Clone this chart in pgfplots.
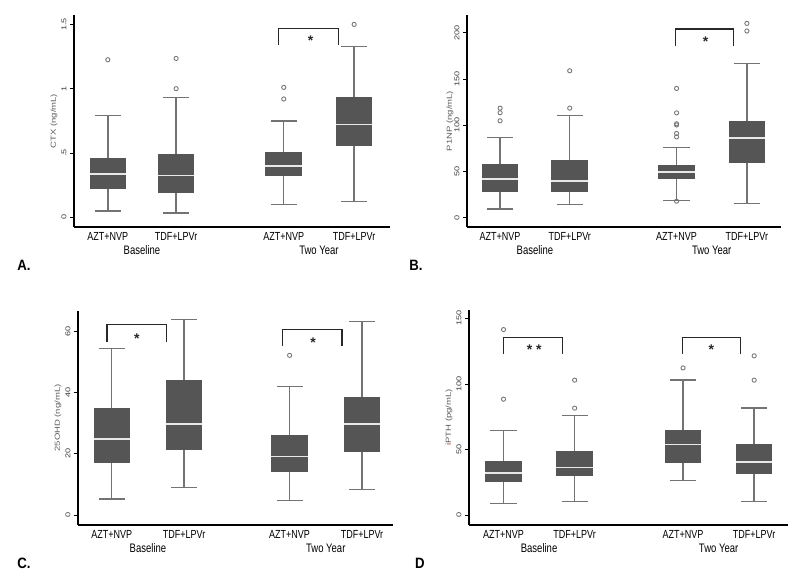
\documentclass[border=0pt]{standalone}
\usepackage{fontspec}
\setmainfont{Liberation Sans}
\usepackage{graphicx}
\usepackage{pgfplots}
\pgfplotsset{compat=1.18}
\usepgfplotslibrary{statistics}

\definecolor{boxgray}{RGB}{85,85,85}
\definecolor{whiskgray}{RGB}{115,115,115}
\definecolor{outgray}{RGB}{120,120,120}
\definecolor{medwhite}{RGB}{232,232,232}
\definecolor{labgray}{RGB}{90,90,90}
\definecolor{tickgray}{RGB}{60,60,60}
\definecolor{brk}{RGB}{40,40,40}
\definecolor{ired}{RGB}{170,70,60}

% Stata export is stretched vertically, so text is too
\newcommand{\hs}[1]{\scalebox{1.3}[1]{#1}}
\newcommand{\vs}[1]{\scalebox{1}[1.3]{#1}}
\newcommand{\sig}{\fontsize{14}{14}\selectfont\bfseries *}

\pgfplotsset{
	panel/.style={
		scale only axis, anchor=south west, clip=false,
		axis x line*=bottom, axis y line*=left,
		axis line style={black, line width=1.1pt, -},
		xmin=0,
		tick align=outside, major tick length=4pt,
		ytick style={black, line width=0.8pt},
		xtick style={draw=none},
		yticklabel style={rotate=90, anchor=south, font=\fontsize{7}{7}\selectfont, text=tickgray},
		xticklabel style={font=\fontsize{9}{9}\selectfont, text=black, yshift=2pt},
		xticklabels={\vs{AZT+NVP},\vs{TDF+LPVr},\vs{AZT+NVP},\vs{TDF+LPVr}},
	},
	bxp/.style={
		boxplot/draw direction=y,
		boxplot/box extend=0.53,
		boxplot/whisker extend=0.38,
		boxplot/every box/.style={draw=none, fill=boxgray},
		boxplot/every whisker/.style={draw=whiskgray, line width=1.4pt},
		boxplot/every median/.style={draw=medwhite, line width=1.5pt},
		draw=whiskgray, solid,
		mark=o, mark size=2.1pt, mark options={draw=outgray, line width=0.9pt},
	},
}
\tikzset{
	brack/.style={draw=brk, line width=1.1pt},
	star/.style={text=brk, anchor=center, yshift=-3pt, inner sep=0pt},
	grp/.style={font=\fontsize{9.5}{9.5}\selectfont, anchor=center},
	ylab/.style={rotate=90, font=\fontsize{7.3}{7.3}\selectfont, text=labgray, anchor=center},
	letter/.style={font=\fontsize{12}{12}\selectfont\bfseries, anchor=center},
}

\begin{document}
\begin{tikzpicture}
\path[use as bounding box] (0,0) rectangle (800pt,578pt);

% ---------------- A: CTX
\begin{axis}[panel, at={(74pt,351pt)}, width=316pt, height=212pt,
	xmax=4.58, ymin=-0.0753, ymax=1.573,
	xtick={0.49,1.48,3.04,4.06},
	ytick={0,0.5,1,1.5}, yticklabels={\hs{0},\hs{.5},\hs{1},\hs{1.5}}]
\addplot[bxp, boxplot prepared={draw position=0.49, lower whisker=0.049, lower quartile=0.218, median=0.335, upper quartile=0.465, upper whisker=0.79}]
	table[row sep=\\, y index=0] {v\\ 1.225\\};
\addplot[bxp, boxplot prepared={draw position=1.48, lower whisker=0.034, lower quartile=0.19, median=0.327, upper quartile=0.49, upper whisker=0.93}]
	table[row sep=\\, y index=0] {v\\ 1.0\\ 1.235\\};
\addplot[bxp, boxplot prepared={draw position=3.04, lower whisker=0.10, lower quartile=0.322, median=0.397, upper quartile=0.506, upper whisker=0.75}]
	table[row sep=\\, y index=0] {v\\ 0.92\\ 1.01\\};
\addplot[bxp, boxplot prepared={draw position=4.06, lower whisker=0.125, lower quartile=0.555, median=0.72, upper quartile=0.937, upper whisker=1.326}]
	table[row sep=\\, y index=0] {v\\ 1.5\\};
\draw[brack] (axis cs:2.97,1.34) -- (axis cs:2.97,1.47) -- (axis cs:3.83,1.47) -- (axis cs:3.83,1.34);
\node[star] at (axis cs:3.43,1.40) {\sig};
\node[grp] at ([yshift=-23pt]axis cs:0.985,-0.0753) {\vs{Baseline}};
\node[grp] at ([yshift=-23pt]axis cs:3.55,-0.0753) {\vs{Two Year}};
\node[ylab] at ([xshift=-20pt]rel axis cs:0,0.5) {\hs{CTX (ng/mL)}};
\end{axis}

% ---------------- B: P1NP
\begin{axis}[panel, at={(467pt,351pt)}, width=314pt, height=212pt,
	xmax=4.555, ymin=-10.1, ymax=219.1,
	xtick={0.48,1.49,3.04,4.06},
	ytick={0,50,100,150,200}, yticklabels={\hs{0},\hs{50},\hs{100},\hs{150},\hs{200}}]
\addplot[bxp, boxplot prepared={draw position=0.48, lower whisker=9.4, lower quartile=27.4, median=41.9, upper quartile=57.8, upper whisker=86.6}]
	table[row sep=\\, y index=0] {v\\ 104.7\\ 113.4\\ 118.4\\};
\addplot[bxp, boxplot prepared={draw position=1.49, lower whisker=14.4, lower quartile=27.4, median=39.7, upper quartile=62.1, upper whisker=110.5}]
	table[row sep=\\, y index=0] {v\\ 118.4\\ 158.8\\};
\addplot[bxp, boxplot prepared={draw position=3.04, lower whisker=18.7, lower quartile=41.6, median=49.4, upper quartile=56.6, upper whisker=75.8}]
	table[row sep=\\, y index=0] {v\\ 17.8\\ 87.3\\ 91\\ 100.2\\ 101.5\\ 113.3\\ 139.7\\};
\addplot[bxp, boxplot prepared={draw position=4.06, lower whisker=15.2, lower quartile=59.6, median=86.2, upper quartile=104.6, upper whisker=166.8}]
	table[row sep=\\, y index=0] {v\\ 201.8\\ 210\\};
\draw[brack] (axis cs:3.02,185.6) -- (axis cs:3.02,204) -- (axis cs:3.87,204) -- (axis cs:3.87,185.6);
\node[star] at (axis cs:3.46,194) {\sig};
\node[grp] at ([yshift=-23pt]axis cs:0.985,-10.1) {\vs{Baseline}};
\node[grp] at ([yshift=-23pt]axis cs:3.55,-10.1) {\vs{Two Year}};
\node[ylab] at ([xshift=-17pt]rel axis cs:0,0.5) {\hs{P1NP (ng/mL)}};
\end{axis}

% ---------------- C: 25OHD
\begin{axis}[panel, at={(78pt,53pt)}, width=315pt, height=214pt,
	xmax=4.57, ymin=-3.26, ymax=66.7,
	xtick={0.49,1.54,3.07,4.12},
	ytick={0,20,40,60}, yticklabels={\hs{0},\hs{20},\hs{40},\hs{60}}]
\addplot[bxp, boxplot prepared={draw position=0.49, lower whisker=5.3, lower quartile=17.0, median=24.9, upper quartile=35.1, upper whisker=54.5}]
	coordinates {};
\addplot[bxp, boxplot prepared={draw position=1.54, lower whisker=9.0, lower quartile=21.2, median=29.7, upper quartile=44.1, upper whisker=63.9}]
	coordinates {};
\addplot[bxp, boxplot prepared={draw position=3.07, lower whisker=4.8, lower quartile=14.0, median=19.2, upper quartile=26.0, upper whisker=42}]
	table[row sep=\\, y index=0] {v\\ 52.2\\};
\addplot[bxp, boxplot prepared={draw position=4.12, lower whisker=8.3, lower quartile=20.5, median=29.7, upper quartile=38.7, upper whisker=63.2}]
	coordinates {};
\draw[brack] (axis cs:0.42,56.5) -- (axis cs:0.42,62.2) -- (axis cs:1.28,62.2) -- (axis cs:1.28,56.5);
\node[star] at (axis cs:0.855,58.5) {\sig};
\draw[brack] (axis cs:2.97,55.2) -- (axis cs:2.97,60.7) -- (axis cs:3.83,60.7) -- (axis cs:3.83,55.2);
\node[star] at (axis cs:3.41,57.2) {\sig};
\node[grp] at ([yshift=-23pt]axis cs:1.015,-3.26) {\vs{Baseline}};
\node[grp] at ([yshift=-23pt]axis cs:3.595,-3.26) {\vs{Two Year}};
\node[ylab] at ([xshift=-20pt]rel axis cs:0,0.5) {\hs{25OHD (ng/mL)}};
\end{axis}

% ---------------- D: iPTH
\begin{axis}[panel, at={(469pt,53pt)}, width=319pt, height=215pt,
	xmax=4.62, ymin=-7.35, ymax=156.3,
	xtick={0.5,1.53,3.1,4.13},
	ytick={0,50,100,150}, yticklabels={\hs{0},\hs{50},\hs{100},\hs{150}}]
\addplot[bxp, boxplot prepared={draw position=0.5, lower whisker=8.9, lower quartile=25.6, median=32.4, upper quartile=41.5, upper whisker=64.4}]
	table[row sep=\\, y index=0] {v\\ 88.4\\ 141.4\\};
\addplot[bxp, boxplot prepared={draw position=1.53, lower whisker=10.6, lower quartile=29.6, median=36.5, upper quartile=49.2, upper whisker=76}]
	table[row sep=\\, y index=0] {v\\ 81.6\\ 102.9\\};
\addplot[bxp, boxplot prepared={draw position=3.1, lower whisker=26.3, lower quartile=39.8, median=54, upper quartile=65.1, upper whisker=103.1}]
	table[row sep=\\, y index=0] {v\\ 112.2\\};
\addplot[bxp, boxplot prepared={draw position=4.13, lower whisker=10.6, lower quartile=31.4, median=40.5, upper quartile=54.2, upper whisker=81.8}]
	table[row sep=\\, y index=0] {v\\ 102.9\\ 121.4\\};
\draw[brack] (axis cs:0.50,122.9) -- (axis cs:0.50,135.5) -- (axis cs:1.36,135.5) -- (axis cs:1.36,122.9);
\node[star] at (axis cs:0.945,128.2) {\sig\hspace{4pt}\sig};
\draw[brack] (axis cs:3.09,122.9) -- (axis cs:3.09,135.5) -- (axis cs:3.93,135.5) -- (axis cs:3.93,122.9);
\node[star] at (axis cs:3.51,128.2) {\sig};
\node[grp] at ([yshift=-23pt]axis cs:1.015,-7.35) {\vs{Baseline}};
\node[grp] at ([yshift=-23pt]axis cs:3.615,-7.35) {\vs{Two Year}};
\node[ylab] at ([xshift=-20pt]rel axis cs:0,0.5) {\hs{\textcolor{ired}{i}PTH (pg/mL)}};
\end{axis}

\node[letter] at (24pt,313pt) {\scalebox{1.1}[1.25]{A.}};
\node[letter] at (416pt,313pt) {\scalebox{1.1}[1.25]{B.}};
\node[letter] at (24pt,15pt) {\scalebox{1.1}[1.25]{C.}};
\node[letter] at (420pt,15pt) {\scalebox{1.1}[1.25]{D}};
\end{tikzpicture}
\end{document}
